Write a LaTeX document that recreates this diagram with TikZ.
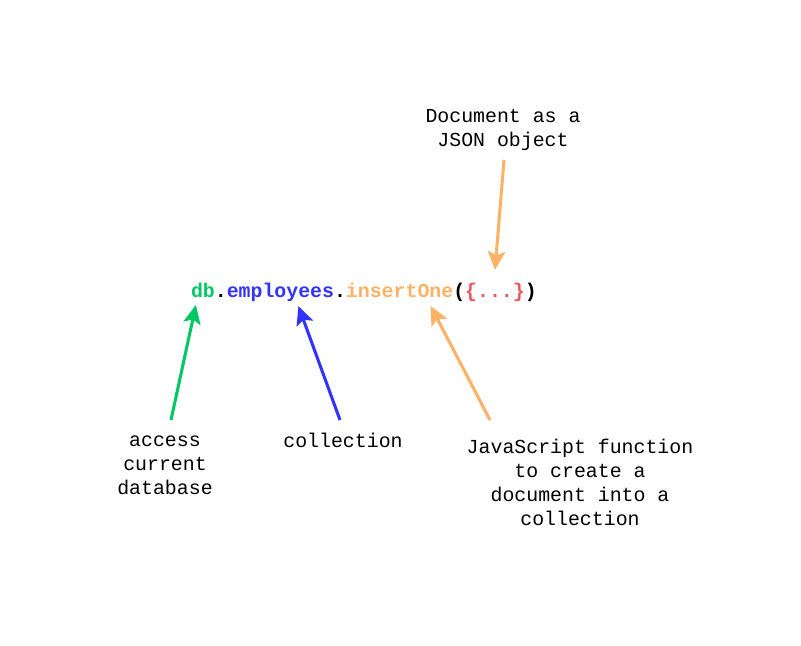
\documentclass[tikz,border=0pt]{standalone}
\usepackage{fontspec}
\setmonofont{Liberation Mono}
\usepackage{xcolor}
\usepackage{tikz}
\usetikzlibrary{arrows.meta, calc, positioning}
\definecolor{dbgreen}{RGB}{0,200,100}
\definecolor{collblue}{RGB}{51,51,255}
\definecolor{fnorange}{RGB}{255,178,102}
\definecolor{bracered}{RGB}{236,88,96}

\begin{document}
\begin{tikzpicture}[x=0.75pt, y=-0.75pt,
    code/.style={font=\fontsize{14.9}{18}\selectfont\ttfamily\bfseries, inner sep=0, outer sep=0, anchor=base west},
    note/.style={font=\fontsize{14.9}{18}\selectfont\ttfamily, inner sep=0, align=center},
    pointer/.style={line width=2.3pt, -{Stealth[length=14, width=13, inset=3]}}]
    \useasboundingbox (0,0) rectangle (801,646);

    % Code line
    \node[code, text=dbgreen] (db) at (191,297) {db};
    \node[code] (dot1) at (db.base east) {.};
    \node[code, text=collblue] (coll) at (dot1.base east) {employees};
    \node[code] (dot2) at (coll.base east) {.};
    \node[code, text=fnorange] (fn) at (dot2.base east) {insertOne};
    \node[code] (lpar) at (fn.base east) {(};
    \node[code, text=bracered] (doc) at (lpar.base east) {\{...\}};
    \node[code] (rpar) at (doc.base east) {)};

    % Notes
    \node[note] (docnote) at (503,130) {Document as a\\JSON object};
    \node[note] (dbnote) at (165,465) {access\\current\\database};
    \node[note] (collnote) at (343,440) {collection};
    \node[note] (fnnote) at (580,482) {JavaScript function\\to create a\\document into a\\collection};

    % Pointers
    \draw[pointer, fnorange] ($(docnote.center)+(1,30)$) -- ($(doc.base)+(0,-27)$);
    \draw[pointer, dbgreen] ($(dbnote.center)+(6,-45)$) -- ($(db.base)+(-7,8)$);
    \draw[pointer, collblue] ($(collnote.center)+(-3,-20)$) -- ($(coll.base)+(18,9)$);
    \draw[pointer, fnorange] ($(fnnote.center)+(-90,-62)$) -- ($(fn.base)+(31,9)$);
\end{tikzpicture}
\end{document}
